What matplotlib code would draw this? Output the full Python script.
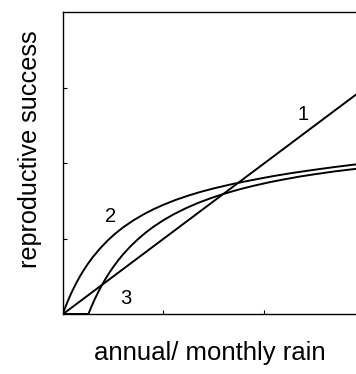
import matplotlib
matplotlib.use("Agg")
import matplotlib.pyplot as plt

# Line 1: linear response
line1_x = [0.0, 3.0]
line1_y = [0.0, 3.0]

# Curve 2: saturating from origin
curve2_x = [0.0, 0.01, 0.02, 0.035, 0.05, 0.075, 0.1, 0.135, 0.17, 0.2, 0.25, 0.3, 0.375,
            0.45, 0.525, 0.6, 0.7, 0.8, 0.9, 1.0, 1.125, 1.25, 1.375, 1.5, 1.65, 1.8, 1.95,
            2.1, 2.25, 2.4, 2.55, 2.7, 2.85, 3.0]
curve2_y = [0.0, 0.037, 0.072, 0.123, 0.173, 0.25, 0.322, 0.415, 0.50, 0.567, 0.669, 0.76, 0.879,
            0.983, 1.073, 1.152, 1.243, 1.322, 1.391, 1.451, 1.517, 1.574, 1.624, 1.668, 1.715, 1.757, 1.796,
            1.833, 1.866, 1.896, 1.924, 1.951, 1.976, 2.0]

# Curve 3: saturating with threshold
curve3_x = [0.254, 0.26, 0.27, 0.285, 0.30, 0.32, 0.35, 0.385, 0.42, 0.46, 0.50, 0.55, 0.60, 0.67,
            0.75, 0.825, 0.90, 1.0, 1.1, 1.225, 1.35, 1.475, 1.6, 1.75, 1.9, 2.05, 2.2, 2.35,
            2.5, 2.7, 3.0]
curve3_y = [0.0, 0.02, 0.053, 0.101, 0.147, 0.206, 0.288, 0.377, 0.459, 0.545, 0.624, 0.714, 0.795, 0.897,
            0.999, 1.084, 1.159, 1.247, 1.324, 1.407, 1.479, 1.541, 1.596, 1.654, 1.704, 1.749, 1.788, 1.824,
            1.855, 1.893, 1.941]

labels = ["1", "2", "3"]
label_pos = [(2.38, 2.64), (0.47, 1.29), (0.63, 0.21)]

plt.rcParams['font.family'] = ['Liberation Sans', 'DejaVu Sans']

fig = plt.figure(figsize=(3.56, 3.74), dpi=100)
ax = fig.add_axes([62.7/356, (374-314.3)/374, 1 - 62.7/356, (314.3-12.3)/374])

lw = 1.4
ax.plot(line1_x, line1_y, color='black', lw=lw, solid_capstyle='butt')
ax.plot(curve2_x, curve2_y, color='black', lw=lw)
ax.plot(curve3_x, curve3_y, color='black', lw=lw)
ax.plot([0, 0.254], [0, 0], color='black', lw=lw)

for t, (x, y) in zip(labels, label_pos):
    ax.text(x, y, t, fontsize=14.5, ha='center', va='center')

ax.set_xlim(0, 2.91)
ax.set_ylim(0, 4.0)
ax.set_xticks([1, 2])
ax.set_yticks([1, 2, 3])
ax.set_xticklabels([])
ax.set_yticklabels([])
ax.tick_params(direction='in', length=3, width=0.8)
ax.spines['right'].set_visible(False)
for s in ['left', 'bottom', 'top']:
    ax.spines[s].set_linewidth(1.0)

ax.set_xlabel("annual/ monthly rain", fontsize=18.5, labelpad=16)
ax.set_ylabel("reproductive success", fontsize=18.2, labelpad=10)
ax.yaxis.set_label_coords(-0.07, 0.547)

fig.savefig("out.png", dpi=100)
